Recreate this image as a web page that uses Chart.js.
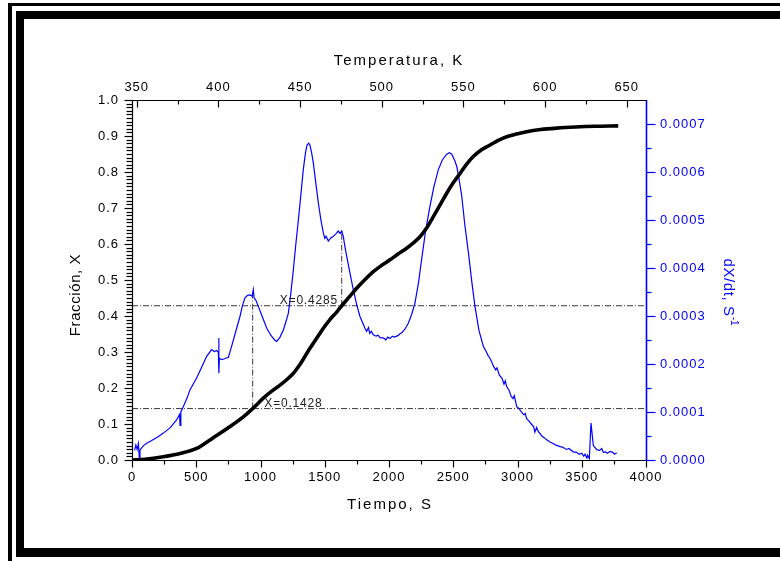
<!DOCTYPE html>
<html lang="es">
<head>
<meta charset="UTF-8">
<title>Fracción convertida y velocidad de reacción</title>
<script src="https://cdn.jsdelivr.net/npm/chart.js@4"></script>
<style>
  body { margin: 0; background: #fff; }
  #wrap { width: 780px; height: 561px; }
</style>
</head>
<body>
<div id="wrap"><canvas id="chart" width="780" height="561"></canvas></div>
<script>
// Fracción convertida X frente al tiempo (s)
const tX = [0, 100, 244, 374, 503, 633, 763, 866, 939, 1022, 1090, 1152, 1210, 1256, 1300, 1333,
  1370, 1411, 1450, 1489, 1540, 1593, 1632, 1696, 1748, 1810, 1878, 1940, 2008, 2070, 2137, 2190,
  2241, 2290, 2345, 2400, 2449, 2500, 2553, 2600, 2656, 2720, 2786, 2850, 2916, 3000, 3071, 3180,
  3305, 3450, 3600, 3784];
const fracX = [0, 0.002, 0.009, 0.018, 0.032, 0.062, 0.093, 0.120, 0.1428, 0.172, 0.192, 0.208, 0.225,
  0.241, 0.262, 0.280, 0.302, 0.324, 0.345, 0.366, 0.390, 0.411, 0.4285, 0.455, 0.477, 0.500, 0.523,
  0.540, 0.556, 0.572, 0.588, 0.603, 0.620, 0.643, 0.676, 0.710, 0.741, 0.770, 0.796, 0.820, 0.843,
  0.862, 0.875, 0.888, 0.898, 0.906, 0.912, 0.918, 0.922, 0.925, 0.927, 0.928];

// Velocidad dX/dt (1/s) frente al tiempo (s)
const tRate = [20, 30, 40, 50, 57, 62, 90, 114, 150, 200, 244, 300, 348, 370, 374, 380, 399, 430, 451,
  480, 503, 540, 581, 620, 640, 659, 672, 675, 677, 680, 698, 720, 750, 770, 789, 815, 840, 860, 879,
  900, 918, 935, 944, 950, 965, 983, 1015, 1048, 1080, 1110, 1126, 1150, 1178, 1200, 1217, 1235, 1256,
  1275, 1295, 1315, 1333, 1350, 1362, 1375, 1385, 1398, 1411, 1430, 1450, 1470, 1489, 1500, 1510, 1528,
  1545, 1567, 1590, 1605, 1620, 1632, 1644, 1660, 1671, 1696, 1722, 1750, 1774, 1800, 1812, 1826,
  1840, 1850, 1862, 1878, 1900, 1915, 1930, 1960, 1975, 1990, 2008, 2025, 2040, 2070, 2085, 2099,
  2125, 2150, 2175, 2202, 2230, 2254, 2285, 2319, 2350, 2384, 2415, 2449, 2470, 2488, 2510, 2527,
  2545, 2566, 2590, 2618, 2645, 2669, 2700, 2734, 2750, 2760, 2770, 2785, 2795, 2812, 2830, 2840,
  2860, 2880, 2895, 2905, 2916, 2935, 2950, 2965, 2975, 2994, 3010, 3030, 3050, 3060, 3071, 3090,
  3110, 3125, 3135, 3149, 3160, 3190, 3210, 3227, 3250, 3280, 3300, 3331, 3350, 3380, 3400, 3434,
  3460, 3480, 3500, 3515, 3525, 3540, 3545, 3559, 3572, 3590, 3610, 3620, 3640, 3655, 3668, 3685,
  3700, 3720, 3740, 3755, 3772];
const rate = [0.000020, 0.000031, 0.000022, 0.000034, 0.000004, 0.000021, 0.000030, 0.000035,
  0.000040, 0.000048, 0.000056, 0.000068, 0.000084, 0.000095, 0.000072, 0.000100, 0.000111,
  0.000130, 0.000146, 0.000160, 0.000171, 0.000192, 0.000216, 0.000230, 0.000226, 0.000228,
  0.000224, 0.000254, 0.000181, 0.000212, 0.000209, 0.000211, 0.000214, 0.000232, 0.000250,
  0.000275, 0.000299, 0.000322, 0.000338, 0.000343, 0.000344, 0.000341, 0.000355, 0.000338,
  0.000332, 0.000320, 0.000298, 0.000275, 0.000260, 0.000250, 0.000247, 0.000255, 0.000271,
  0.000290, 0.000306, 0.000345, 0.000397, 0.000450, 0.000501, 0.000555, 0.000605, 0.000640,
  0.000656, 0.000660, 0.000656, 0.000640, 0.000619, 0.000578, 0.000536, 0.000500, 0.000473,
  0.000462, 0.000466, 0.000456, 0.000462, 0.000466, 0.000472, 0.000477, 0.000472, 0.000477, 0.000466,
  0.000440, 0.000424, 0.000390, 0.000355, 0.000322, 0.000299, 0.000283, 0.000275, 0.000268,
  0.000276, 0.000264, 0.000268, 0.000261, 0.000258, 0.000260, 0.000255, 0.000254, 0.000250,
  0.000256, 0.000253, 0.000258, 0.000256, 0.000259, 0.000263, 0.000265,
  0.000273, 0.000285, 0.000302, 0.000327, 0.000370, 0.000418, 0.000478, 0.000529, 0.000570,
  0.000605, 0.000625, 0.000637, 0.000640, 0.000637, 0.000625, 0.000612, 0.000585, 0.000550,
  0.000490, 0.000432, 0.000370, 0.000320, 0.000270, 0.000237, 0.000229, 0.000224, 0.000218,
  0.000212, 0.000207, 0.000196, 0.000188, 0.000192, 0.000176, 0.000170, 0.000158, 0.000165,
  0.000153, 0.000145, 0.000133, 0.000128, 0.000134, 0.000111, 0.000108, 0.000100, 0.000094,
  0.000097, 0.000086, 0.000081, 0.000074, 0.000070, 0.000058, 0.000068, 0.000060, 0.000050,
  0.000046, 0.000042, 0.000038, 0.000034, 0.000031, 0.000028, 0.000027, 0.000022, 0.000024,
  0.000017, 0.000016, 0.000012, 0.000014, 0.000008, 0.000012, 0.000004, 0.000010, 0.000003,
  0.000077, 0.000030, 0.000024, 0.000021, 0.000020, 0.000024, 0.000016, 0.000017, 0.000014,
  0.000018, 0.000016, 0.000012, 0.000015, 0.000014];

// Marcas X=0.1428 y X=0.4285
const markT = [939, 1632];
const markX = [0.1428, 0.4285];
const markRate = [0.000348, 0.000477];
const markLabel = ['X=0.1428', 'X=0.4285'];
const markLabelT = [1030, 1150];

// Ejes
const timeMajor = [0, 500, 1000, 1500, 2000, 2500, 3000, 3500, 4000];
const timeMinor = [250, 750, 1250, 1750, 2250, 2750, 3250, 3750];
const tempMajor = [350, 400, 450, 500, 550, 600, 650];
const tempMinor = [375, 425, 475, 525, 575, 625];
const fracMajor = [0, 0.1, 0.2, 0.3, 0.4, 0.5, 0.6, 0.7, 0.8, 0.9, 1.0];
const rateMajor = [0, 0.0001, 0.0002, 0.0003, 0.0004, 0.0005, 0.0006, 0.0007];
const rateMinor = [0.00005, 0.00015, 0.00025, 0.00035, 0.00045, 0.00055, 0.00065];
const tempMin = 347.1, tempMax = 661.8;
const rateMax = 0.00075;

const BLUE = '#0000ff';
const FONT = '"Liberation Sans", Arial, sans-serif';
const tickFont = { family: FONT, size: 13 };

function pts(xs, ys) { return xs.map((x, i) => ({ x: x, y: ys[i] })); }
function setTicks(values) { return s => { s.ticks = values.map(v => ({ value: v })); }; }

const refLine = { borderColor: '#3a3a3a', borderWidth: 1, borderDash: [6, 2, 1, 2], pointRadius: 0 };

const datasets = [
  { data: pts(tX, fracX), yAxisID: 'y', borderColor: '#000', borderWidth: 3.6, pointRadius: 0,
    cubicInterpolationMode: 'monotone' },
  { data: pts(tRate, rate), yAxisID: 'y2', borderColor: BLUE, borderWidth: 1.2, pointRadius: 0 }
];
markX.forEach((m, i) => {
  datasets.push(Object.assign({ data: [{ x: 0, y: m }, { x: 4000, y: m }], yAxisID: 'y' }, refLine));
  datasets.push(Object.assign({ data: [{ x: markT[i], y: m * rateMax }, { x: markT[i], y: markRate[i] }],
    yAxisID: 'y2' }, refLine));
});

function line(c, x1, y1, x2, y2) {
  c.beginPath(); c.moveTo(x1, y1); c.lineTo(x2, y2); c.stroke();
}

// texto vertical (girado), centrado en (cx, cy)
function vtext(c, txt, cx, cy, angle) {
  c.save();
  c.translate(cx, cy);
  c.rotate(angle);
  c.fillText(txt, 0, 0);
  c.restore();
}

const decor = {
  id: 'decor',
  beforeLayout(chart) { chart.ctx.letterSpacing = '1px'; },
  beforeDraw(chart) {
    const c = chart.ctx;
    c.save();
    c.fillStyle = '#000';
    c.fillRect(8, 3, 772, 3);
    c.fillRect(8, 3, 4, 558);
    c.fillRect(16, 11, 764, 8);
    c.fillRect(16, 11, 8, 546);
    c.fillRect(16, 548, 764, 9);
    c.restore();
    c.letterSpacing = '1px';
  },
  afterDraw(chart) {
    const c = chart.ctx;
    const a = chart.chartArea;
    const s = chart.scales;
    const L = Math.round(a.left) + 0.5, R = Math.round(a.right) + 0.5;
    const T = Math.round(a.top) + 0.5, B = Math.round(a.bottom) + 0.5;
    c.save();
    c.lineWidth = 1.2;
    c.strokeStyle = '#000';
    line(c, L, T, R, T);
    line(c, L, B, R, B);
    line(c, L, T, L, B);
    fracMajor.forEach(v => { const p = Math.round(s.y.getPixelForValue(v)) + 0.5; line(c, L - 8, p, L, p); });
    for (let k = 1; k < 100; k++) {
      if (k % 10 === 0) continue;
      const p = Math.round(s.y.getPixelForValue(k / 100)) + 0.5;
      line(c, L - 6, p, L, p);
    }
    timeMajor.forEach(v => { const p = Math.round(s.x.getPixelForValue(v)) + 0.5; line(c, p, B, p, B + 7); });
    timeMinor.forEach(v => { const p = Math.round(s.x.getPixelForValue(v)) + 0.5; line(c, p, B, p, B + 4); });
    tempMajor.forEach(v => { const p = Math.round(s.x2.getPixelForValue(v)) + 0.5; line(c, p, T, p, T + 7); });
    tempMinor.forEach(v => { const p = Math.round(s.x2.getPixelForValue(v)) + 0.5; line(c, p, T, p, T + 4); });

    c.strokeStyle = BLUE;
    c.lineWidth = 1.6;
    line(c, R, T - 0.5, R, B + 0.5);
    c.lineWidth = 1.2;
    rateMajor.forEach(v => { const p = Math.round(s.y2.getPixelForValue(v)) + 0.5; line(c, R, p, R + 9, p); });
    rateMinor.forEach(v => { const p = Math.round(s.y2.getPixelForValue(v)) + 0.5; line(c, R, p, R + 5, p); });

    // etiquetas de las marcas
    c.font = '12px ' + FONT;
    c.letterSpacing = '0.8px';
    c.fillStyle = '#222';
    c.textAlign = 'left';
    c.textBaseline = 'bottom';
    markLabel.forEach((txt, i) => {
      c.fillText(txt, s.x.getPixelForValue(markLabelT[i]), s.y.getPixelForValue(markX[i]) + 1);
    });

    // títulos de los ejes
    c.font = '15px ' + FONT;
    c.letterSpacing = '2px';
    c.fillStyle = '#000';
    c.textAlign = 'center';
    c.textBaseline = 'middle';
    c.fillText('Temperatura, K', 399, 61);
    c.fillText('Tiempo, S', 390, 505);
    c.letterSpacing = '0.6px';
    vtext(c, 'Fracción, X', 76, 295, -Math.PI / 2);

    c.save();
    c.translate(728, 292);
    c.rotate(Math.PI / 2);
    c.fillStyle = BLUE;
    c.textAlign = 'left';
    const main = 'dX/dt, S';
    const wMain = c.measureText(main).width;
    c.font = '10px ' + FONT;
    c.letterSpacing = '0px';
    const wSup = c.measureText('-1').width;
    const x0 = -(wMain + wSup) / 2;
    c.fillText('-1', x0 + wMain, -6);
    c.font = '15px ' + FONT;
    c.letterSpacing = '0.6px';
    c.fillText(main, x0, 0);
    c.restore();
    c.restore();
  }
};

const axisBase = { type: 'linear', grid: { display: false, drawTicks: false }, border: { display: false } };

new Chart(document.getElementById('chart'), {
  type: 'line',
  data: { datasets: datasets },
  options: {
    responsive: false,
    animation: false,
    events: [],
    layout: { padding: 0 },
    plugins: { legend: { display: false }, tooltip: { enabled: false } },
    scales: {
      x: Object.assign({}, axisBase, {
        position: 'bottom', min: 0, max: 4000,
        ticks: { font: tickFont, color: '#000', padding: 10, maxRotation: 0, autoSkip: false,
          callback: v => String(v) },
        afterBuildTicks: setTicks(timeMajor),
        afterFit: sc => { sc.height = 101; }
      }),
      x2: Object.assign({}, axisBase, {
        position: 'top', min: tempMin, max: tempMax,
        ticks: { font: tickFont, color: '#000', padding: 5, maxRotation: 0, autoSkip: false,
          callback: v => String(v) },
        afterBuildTicks: setTicks(tempMajor),
        afterFit: sc => { sc.height = 100; }
      }),
      y: Object.assign({}, axisBase, {
        position: 'left', min: 0, max: 1,
        ticks: { font: tickFont, color: '#000', padding: 13, autoSkip: false,
          callback: v => v.toFixed(1) },
        afterBuildTicks: setTicks(fracMajor),
        afterFit: sc => { sc.width = 132; }
      }),
      y2: Object.assign({}, axisBase, {
        position: 'right', min: 0, max: rateMax,
        ticks: { font: tickFont, color: BLUE, padding: 14, autoSkip: false,
          callback: v => v.toFixed(4) },
        afterBuildTicks: setTicks(rateMajor),
        afterFit: sc => { sc.width = 134; }
      })
    }
  },
  plugins: [decor]
});
</script>
</body>
</html>
